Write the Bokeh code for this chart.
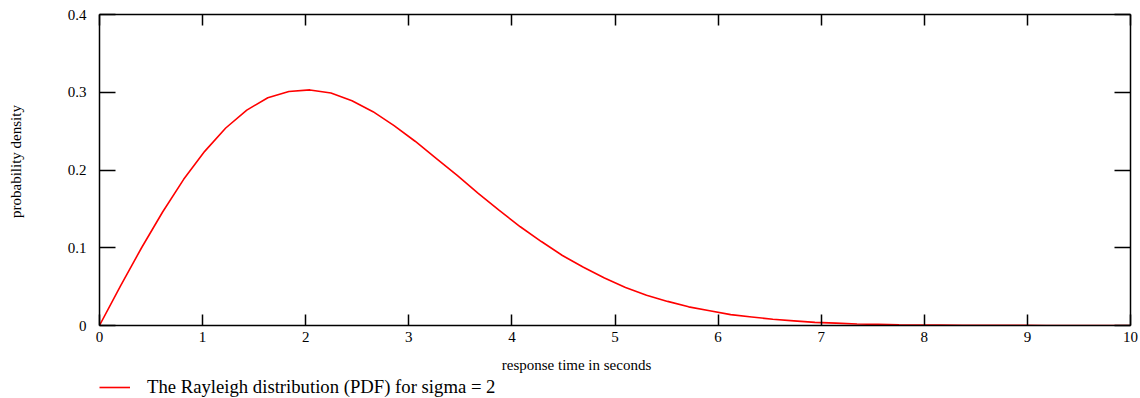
import math
from bokeh.plotting import figure
from bokeh.layouts import gridplot
from bokeh.models import (LinearAxis, FixedTicker, Range1d, Legend, LegendItem, Label)
from bokeh.embed import file_html
from bokeh.resources import INLINE

# response time (s) sample points, 50 samples across 0..10
x_vals = [i * 10 / 49 for i in range(50)]
# probability density
pdf_vals = [0.000, 0.051, 0.100, 0.146, 0.188, 0.224, 0.254, 0.277, 0.293, 0.301,
            0.303, 0.299, 0.289, 0.275, 0.257, 0.237, 0.215, 0.193, 0.170, 0.148,
            0.127, 0.108, 0.090, 0.075, 0.061, 0.049, 0.039, 0.031, 0.024, 0.019,
            0.014, 0.011, 0.008, 0.006, 0.004, 0.003, 0.002, 0.0015, 0.001, 0.0007,
            0.0005, 0.0003, 0.0002, 0.0001, 0.0001, 0.0, 0.0, 0.0, 0.0, 0.0]
x_ticks = [0, 1, 2, 3, 4, 5, 6, 7, 8, 9, 10]
y_ticks = [0, 0.1, 0.2, 0.3, 0.4]
y_tick_labels = ["0", "0.1", "0.2", "0.3", "0.4"]
x_title = "response time in seconds"
y_title = "probability density"
series_name = "The Rayleigh distribution (PDF) for sigma = 2"

FONT = "Liberation Serif"
RED = "#ff0000"

def blank(fig):
    fig.xgrid.visible = False
    fig.ygrid.visible = False
    fig.outline_line_color = None
    fig.background_fill_color = "white"
    fig.border_fill_color = "white"

# ---- main chart ----
p = figure(width=1080, height=349, output_backend="svg", toolbar_location=None,
           x_range=Range1d(0, 10), y_range=Range1d(0, 0.4),
           x_axis_location=None, y_axis_location=None,
           min_border_left=39, min_border_right=10, min_border_top=14, min_border_bottom=24)
blank(p)

def style_axis(ax, tick_len, show_labels):
    ax.axis_line_color = "black"
    ax.axis_line_width = 1.5
    ax.major_tick_line_color = "black"
    ax.major_tick_line_width = 1.5
    ax.major_tick_in = tick_len
    ax.major_tick_out = 0
    ax.minor_tick_line_color = None
    ax.major_label_text_font = FONT
    ax.major_label_text_color = "black"
    if show_labels:
        ax.major_label_text_font_size = "15px"
    else:
        ax.major_label_text_font_size = "1px"
        ax.major_label_standoff = 0

xb = LinearAxis(ticker=FixedTicker(ticks=x_ticks))
style_axis(xb, 11, True)
xb.major_label_standoff = 6
p.add_layout(xb, "below")

xt = LinearAxis(ticker=FixedTicker(ticks=x_ticks))
style_axis(xt, 11, False)
xt.major_label_overrides = {t: "" for t in x_ticks}
p.add_layout(xt, "above")

yl = LinearAxis(ticker=FixedTicker(ticks=y_ticks))
style_axis(yl, 16, True)
yl.major_label_overrides = dict(zip(y_ticks, y_tick_labels))
yl.major_label_standoff = 13
p.add_layout(yl, "left")

yr = LinearAxis(ticker=FixedTicker(ticks=y_ticks))
style_axis(yr, 16, False)
yr.major_label_overrides = {t: "" for t in y_ticks}
p.add_layout(yr, "right")

p.line(x_vals, pdf_vals, line_color=RED, line_width=1.6)

# ---- y title strip (left of chart) ----
ys = figure(width=60, height=349, output_backend="svg", toolbar_location=None,
            x_range=Range1d(0, 1), y_range=Range1d(0, 1),
            x_axis_location=None, y_axis_location=None,
            min_border_left=0, min_border_right=0, min_border_top=14, min_border_bottom=24)
blank(ys)
ys.add_layout(Label(x=15, y=164, x_units="screen", y_units="screen", text=y_title,
                    angle=math.pi / 2, text_font=FONT, text_font_size="15px",
                    text_align="center", text_baseline="middle", text_color="black"))

# ---- x title + legend strip (below chart) ----
lg = figure(width=1080, height=49, output_backend="svg", toolbar_location=None,
            x_range=Range1d(0, 10), y_range=Range1d(1, 2),
            x_axis_location=None, y_axis_location=None,
            min_border_left=0, min_border_right=0, min_border_top=0, min_border_bottom=0)
blank(lg)
lg.add_layout(Label(x=477, y=34, x_units="screen", y_units="screen", text=x_title,
                    text_font=FONT, text_font_size="15px",
                    text_align="center", text_baseline="middle", text_color="black"))
# same series; lies outside this strip's view, used only for the legend key
key = lg.line(x_vals, pdf_vals, line_color=RED, line_width=1.6)
legend = Legend(items=[LegendItem(label=series_name, renderers=[key])],
                location=(0, 0), orientation="vertical",
                glyph_width=31, glyph_height=20, label_height=20,
                label_standoff=17, padding=0, margin=0, spacing=0,
                border_line_color=None, background_fill_alpha=0,
                label_text_font=FONT, label_text_font_size="18.7px",
                label_text_color="black")
lg.add_layout(legend, "center")

grid = gridplot([[ys, p], [None, lg]], toolbar_location=None)
open("out.html", "w").write(file_html(grid, INLINE))
